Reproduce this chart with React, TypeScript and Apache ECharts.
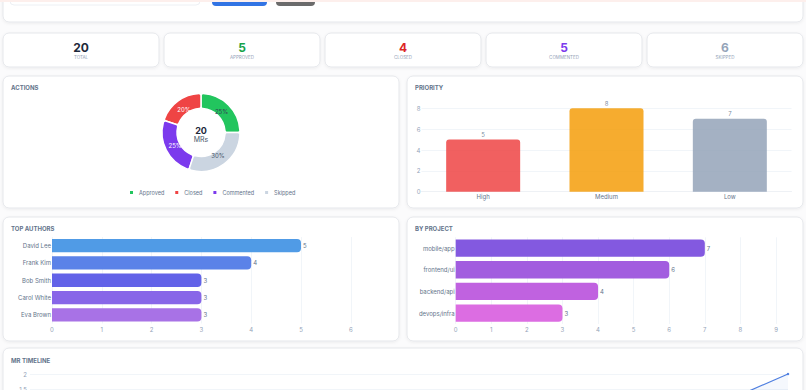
import React, { useEffect, useRef } from "react";
import * as echarts from "echarts";

// Merge request review dashboard data
const actionNames = ["Approved", "Closed", "Commented", "Skipped"];
const actionCounts = [5, 4, 5, 6];
const actionColors = ["#22c55e", "#ef4444", "#7c3aed", "#cbd5e1"];
const actionLabelColors = ["#334155", "#ffffff", "#ffffff", "#475569"];

const kpiLabels = ["TOTAL", "APPROVED", "CLOSED", "COMMENTED", "SKIPPED"];
const kpiColors = ["#1e293b", "#16a34a", "#dc2626", "#7c3aed", "#94a3b8"];

const priorityNames = ["High", "Medium", "Low"];
const priorityCounts = [5, 8, 7];
const priorityColors = ["#ef4444", "#f59e0b", "#94a3b8"];

const authorNames = ["David Lee", "Frank Kim", "Bob Smith", "Carol White", "Eva Brown"];
const authorCounts = [5, 4, 3, 3, 3];
const authorColors = ["#509be6", "#5b82e8", "#6262e8", "#8866e8", "#a872e6"];

const projectNames = ["mobile/app", "frontend/ui", "backend/api", "devops/infra"];
const projectCounts = [7, 6, 4, 3];
const projectColors = ["#8359e0", "#a25ddf", "#c062e0", "#dc6de2"];

const timelineDates = [
  "03-01", "03-02", "03-03", "03-04", "03-05", "03-06",
  "03-07", "03-08", "03-09", "03-10", "03-11", "03-12",
];
const timelineCounts = [1, 0, 1, 1, 0, 1, 0, 1, 1, 0, 1, 2];

const FONT = "Inter, 'Noto Sans', sans-serif";
const MUTED = "#94a3b8";
const SUB = "#64748b";

function card(x: number, y: number, w: number, h: number) {
  return {
    type: "rect",
    z: 0,
    shape: { x, y, width: w, height: h, r: 6 },
    style: {
      fill: "#ffffff",
      stroke: "#e5e7eb",
      lineWidth: 1,
      shadowBlur: 3,
      shadowOffsetY: 1,
      shadowColor: "rgba(15,23,42,0.06)",
    },
  };
}

function title(text: string, x: number, y: number) {
  return {
    type: "text",
    z: 5,
    x,
    y,
    style: {
      text,
      fill: SUB,
      font: `bold 6px ${FONT}`,
      textVerticalAlign: "middle",
    },
  };
}

export default function App() {
  const ref = useRef<HTMLDivElement>(null);

  useEffect(() => {
    if (!ref.current) return;
    const chart = echarts.init(ref.current, undefined, { renderer: "svg" });

    const total = actionCounts.reduce((a, b) => a + b, 0);
    const kpiValues = [total, ...actionCounts];

    const graphics: any[] = [];
    // header panel with form controls
    graphics.push(card(3, -40, 800, 62));
    graphics.push({
      type: "rect", z: 3,
      shape: { x: 10, y: -20, width: 190, height: 25, r: 4 },
      style: { fill: "#ffffff", stroke: "#edf0f4", lineWidth: 1 },
    });
    graphics.push({
      type: "rect", z: 3,
      shape: { x: 212, y: -20, width: 55, height: 26, r: 4 },
      style: { fill: "#3274e4" },
    });
    graphics.push({
      type: "rect", z: 3,
      shape: { x: 276, y: -20, width: 39, height: 26, r: 4 },
      style: { fill: "#6b6b6b" },
    });
    graphics.push({
      type: "rect", z: 4,
      shape: { x: 0, y: -6, width: 806, height: 8 },
      style: { fill: "#fdefec" },
    });

    // KPI cards
    kpiLabels.forEach((lab, i) => {
      const x = 3 + 161 * i;
      graphics.push(card(x, 33, 156, 34));
      graphics.push({
        type: "text", z: 5, x: x + 78, y: 47,
        style: {
          text: String(kpiValues[i]),
          fill: kpiColors[i],
          font: `bold 12px ${FONT}`,
          textAlign: "center",
          textVerticalAlign: "middle",
        },
      });
      graphics.push({
        type: "text", z: 5, x: x + 78, y: 57,
        style: {
          text: lab,
          fill: MUTED,
          font: `4.5px ${FONT}`,
          textAlign: "center",
          textVerticalAlign: "middle",
        },
      });
    });

    // panels
    graphics.push(card(3, 76, 396, 132));
    graphics.push(card(407, 76, 396, 132));
    graphics.push(card(3, 217, 396, 124));
    graphics.push(card(407, 217, 396, 124));
    graphics.push(card(3, 348, 800, 80));
    graphics.push(title("ACTIONS", 11, 87));
    graphics.push(title("PRIORITY", 415, 87));
    graphics.push(title("TOP AUTHORS", 11, 228));
    graphics.push(title("BY PROJECT", 415, 228));
    graphics.push(title("MR TIMELINE", 11, 360));

    // donut centre
    graphics.push({
      type: "text", z: 5, x: 201, y: 130,
      style: {
        text: String(total), fill: "#1e293b", font: `bold 9px ${FONT}`,
        textAlign: "center", textVerticalAlign: "middle",
      },
    });
    graphics.push({
      type: "text", z: 5, x: 201, y: 139.5,
      style: {
        text: "MRs", fill: "#475569", font: `7px ${FONT}`,
        textAlign: "center", textVerticalAlign: "middle",
      },
    });

    const axisLabel = { fontSize: 6, color: MUTED, fontFamily: FONT };
    const splitLine = { show: true, lineStyle: { color: "#f1f5f9", width: 1 } };

    const pieData = actionNames.map((n, i) => ({
      name: n,
      value: actionCounts[i],
      itemStyle: { color: actionColors[i] },
      label: { color: actionLabelColors[i] },
    }));

    chart.setOption({
      animation: false,
      backgroundColor: "#fbfbfc",
      textStyle: { fontFamily: FONT },
      graphic: { elements: graphics },
      legend: {
        data: actionNames,
        left: 128,
        top: 189,
        itemWidth: 5,
        itemHeight: 5,
        itemGap: 9,
        padding: 0,
        icon: "rect",
        textStyle: { fontSize: 5.5, color: SUB, fontFamily: FONT },
      },
      grid: [
        { left: 421.5, top: 108.3, width: 370, height: 83.4, outerBoundsMode: "none" },
        { left: 52, top: 237, width: 298.8, height: 86.5, outerBoundsMode: "none" },
        { left: 455.7, top: 237.3, width: 320.3, height: 86.6, outerBoundsMode: "none" },
        { left: 30, top: 374, width: 758, height: 60, outerBoundsMode: "none" },
      ],
      xAxis: [
        {
          gridIndex: 0, type: "category", data: priorityNames,
          axisLine: { show: true, lineStyle: { color: "#eef1f5" } },
          axisTick: { show: false },
          axisLabel: { ...axisLabel, color: SUB, margin: 2 },
        },
        {
          gridIndex: 1, type: "value", min: 0, max: 6, interval: 1,
          axisLine: { show: false }, axisTick: { show: false },
          axisLabel: { ...axisLabel, margin: 3 }, splitLine,
        },
        {
          gridIndex: 2, type: "value", min: 0, max: 9, interval: 1,
          axisLine: { show: false }, axisTick: { show: false },
          axisLabel: { ...axisLabel, margin: 3 }, splitLine,
        },
        {
          gridIndex: 3, type: "category", data: timelineDates, boundaryGap: false,
          axisLine: { show: false }, axisTick: { show: false },
          axisLabel,
        },
      ],
      yAxis: [
        {
          gridIndex: 0, type: "value", min: 0, max: 8, interval: 2,
          axisLine: { show: false }, axisTick: { show: false },
          axisLabel: { ...axisLabel, margin: 1 }, splitLine,
        },
        {
          gridIndex: 1, type: "category", data: authorNames, inverse: true,
          axisLine: { show: false }, axisTick: { show: false },
          axisLabel: { ...axisLabel, color: SUB, margin: 1 },
        },
        {
          gridIndex: 2, type: "category", data: projectNames, inverse: true,
          axisLine: { show: false }, axisTick: { show: false },
          axisLabel: { ...axisLabel, color: SUB, margin: 1 },
        },
        {
          gridIndex: 3, type: "value", min: 0, max: 2, interval: 0.5,
          axisLine: { show: false }, axisTick: { show: false },
          axisLabel: { ...axisLabel, margin: 3 }, splitLine,
        },
      ],
      series: [
        {
          type: "pie",
          name: "Actions",
          center: [201, 132.5],
          radius: [24, 39],
          startAngle: 0,
          clockwise: false,
          itemStyle: { borderColor: "#ffffff", borderWidth: 1.5, borderRadius: 2 },
          label: { show: false },
          labelLine: { show: false },
          data: pieData,
        },
        {
          // percentage labels, placed mid-ring
          type: "pie",
          name: "Share",
          silent: true,
          center: [201, 132.5],
          radius: [17, 35],
          startAngle: 0,
          clockwise: false,
          z: 3,
          label: {
            show: true,
            position: "inside",
            formatter: "{d}%",
            fontSize: 6,
            fontFamily: FONT,
          },
          labelLine: { show: false },
          data: pieData.map((d) => ({
            ...d,
            itemStyle: { color: "rgba(0,0,0,0)", borderWidth: 0 },
          })),
        },
        {
          type: "bar",
          xAxisIndex: 0,
          yAxisIndex: 0,
          barWidth: "60%",
          label: { show: true, position: "top", distance: 2, fontSize: 6, color: SUB },
          data: priorityCounts.map((v, i) => ({
            value: v,
            itemStyle: { color: priorityColors[i], opacity: 0.85, borderRadius: [3, 3, 0, 0] },
          })),
        },
        {
          type: "bar",
          xAxisIndex: 1,
          yAxisIndex: 1,
          barWidth: "77%",
          label: { show: true, position: "right", distance: 2, fontSize: 6, color: SUB },
          data: authorCounts.map((v, i) => ({
            value: v,
            itemStyle: { color: authorColors[i], borderRadius: [0, 4, 4, 0] },
          })),
        },
        {
          type: "bar",
          xAxisIndex: 2,
          yAxisIndex: 2,
          barWidth: "80%",
          label: { show: true, position: "right", distance: 2, fontSize: 6, color: SUB },
          data: projectCounts.map((v, i) => ({
            value: v,
            itemStyle: { color: projectColors[i], borderRadius: [0, 4, 4, 0] },
          })),
        },
        {
          type: "line",
          xAxisIndex: 3,
          yAxisIndex: 3,
          data: timelineCounts,
          symbol: "circle",
          symbolSize: 2.5,
          lineStyle: { color: "#4f7fe0", width: 1.2 },
          itemStyle: { color: "#4f7fe0" },
          areaStyle: { color: "rgba(79,127,224,0.08)" },
        },
      ],
    });

    return () => chart.dispose();
  }, []);

  return (
    <div
      ref={ref}
      style={{ position: "absolute", left: 0, top: 0, width: 806, height: 390 }}
    />
  );
}
